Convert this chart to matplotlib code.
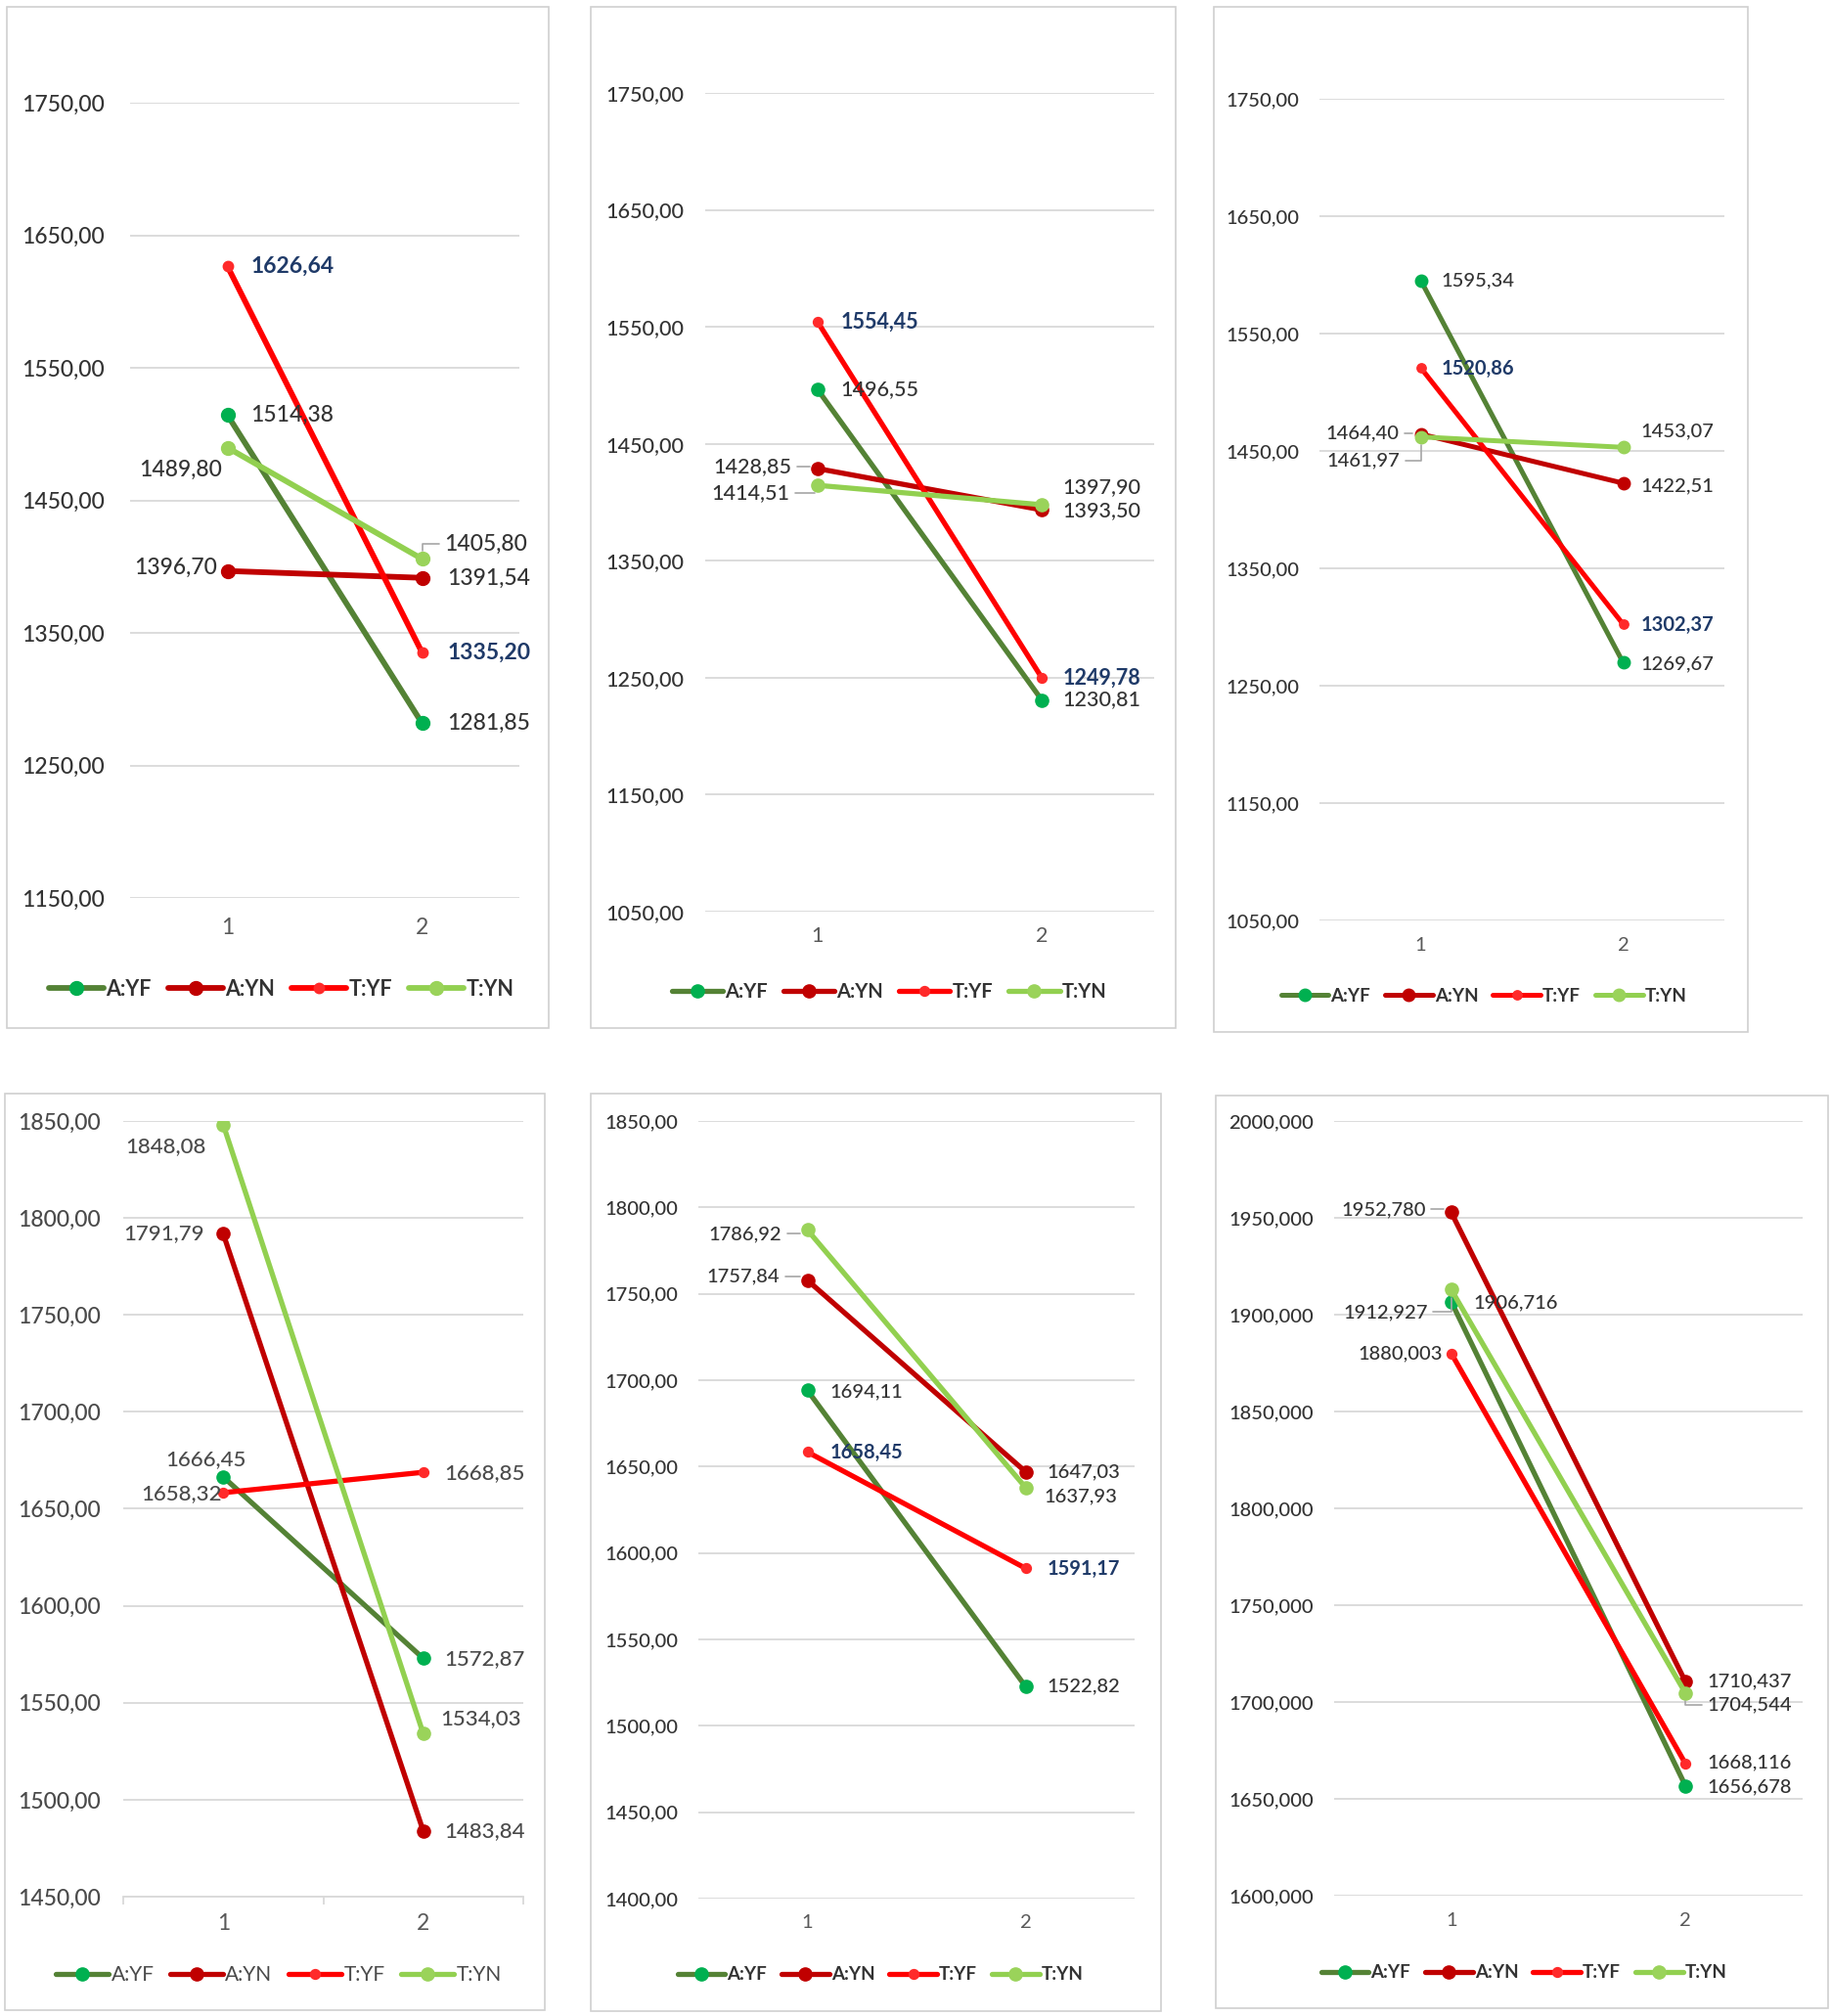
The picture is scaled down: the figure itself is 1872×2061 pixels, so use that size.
import matplotlib
matplotlib.use("Agg")
import matplotlib.pyplot as plt
from matplotlib.patches import Rectangle

plt.rcParams['font.family'] = ['Lato', 'DejaVu Sans']

# ---------------- data ----------------
series_names = ["A:YF", "A:YN", "T:YF", "T:YN"]
categories = ["1", "2"]

panel1_values = [[1514.38, 1281.85], [1396.70, 1391.54], [1626.64, 1335.20], [1489.80, 1405.80]]
panel2_values = [[1496.55, 1230.81], [1428.85, 1393.50], [1554.45, 1249.78], [1414.51, 1397.90]]
panel3_values = [[1595.34, 1269.67], [1464.40, 1422.51], [1520.86, 1302.37], [1461.97, 1453.07]]
panel4_values = [[1666.45, 1572.87], [1791.79, 1483.84], [1658.32, 1668.85], [1848.08, 1534.03]]
panel5_values = [[1694.11, 1522.82], [1757.84, 1647.03], [1658.45, 1591.17], [1786.92, 1637.93]]
panel6_values = [[1906.716, 1656.678], [1952.780, 1710.437], [1880.003, 1668.116], [1912.927, 1704.544]]

panel1_ticks = [1150, 1250, 1350, 1450, 1550, 1650, 1750]
panel2_ticks = [1050, 1150, 1250, 1350, 1450, 1550, 1650, 1750]
panel3_ticks = [1050, 1150, 1250, 1350, 1450, 1550, 1650, 1750]
panel4_ticks = [1450, 1500, 1550, 1600, 1650, 1700, 1750, 1800, 1850]
panel5_ticks = [1400, 1450, 1500, 1550, 1600, 1650, 1700, 1750, 1800, 1850]
panel6_ticks = [1600, 1650, 1700, 1750, 1800, 1850, 1900, 1950, 2000]

# ---------------- styles / layout ----------------
line_colors = ["#548235", "#c00000", "#ff0000", "#92d050"]
marker_colors = ["#00b050", "#c00000", "#ff2a2a", "#9ad35a"]
marker_sizes = [10, 10, 7.5, 10]
GRAY = "#333333"
NAVY = "#1f3a68"
GRID = "#d9d9d9"
TEXT_WEIGHT = 'medium'

W, H = 1872, 2061

# label offsets (dx, dy in image pixels; dy positive = down), ha, leader
R, Lf = 'right', 'left'
offs1 = [[(24, 0, Lf, 0), (26, 0, Lf, 0)],
         [(-10, -3, R, 0), (26, 1, Lf, 0)],
         [(24, 0, Lf, 0), (26, 0, Lf, 0)],
         [(-5, 23, R, 0), (23, -15, Lf, 1)]]
offs2 = [[(24, 0, Lf, 0), (21, -1, Lf, 0)],
         [(-26, -2, R, 1), (21, 1, Lf, 0)],
         [(24, 0, Lf, 0), (21, 0, Lf, 0)],
         [(-28, 8, R, 1), (21, -18, Lf, 0)]]
offs3 = [[(21, 0, Lf, 0), (18, 1, Lf, 0)],
         [(-22, -1, R, 1), (18, 3, Lf, 0)],
         [(21, 1, Lf, 0), (18, 1, Lf, 0)],
         [(-21, 24, R, 1), (18, -16, Lf, 0)]]
offs4 = [[(23, -18, R, 0), (21, 1, Lf, 0)],
         [(-19, 0, R, 0), (21, 0, Lf, 0)],
         [(-2, 1, R, 0), (21, 1, Lf, 0)],
         [(-18, 22, R, 0), (18, -15, Lf, 0)]]
offs5 = [[(23, 1, Lf, 0), (22, 0, Lf, 0)],
         [(-28, -4, R, 1), (22, 0, Lf, 0)],
         [(23, 1, Lf, 0), (22, 1, Lf, 0)],
         [(-26, 4, R, 1), (19, 9, Lf, 0)]]
offs6 = [[(23, 1, Lf, 0), (22, 1, Lf, 0)],
         [(-26, -3, R, 1), (22, 0, Lf, 0)],
         [(-9, 0, R, 0), (22, -1, Lf, 0)],
         [(-24, 23, R, 1), (22, 12, Lf, 1)]]

panels = [
    dict(values=panel1_values, ticks=panel1_ticks, dec=2, plot=(133, 531, 105, 918), border=(7, 7, 561, 1051),
         legend=(288, 1011), xtick_y=952, ypad=26, tfs=16.5, lfs=16.5, gfs=15.5, lw=4.2, offs=offs1,
         navy=True, bold_legend=True, xaxis=False, ms=1.0, gray=GRAY),
    dict(values=panel2_values, ticks=panel2_ticks, dec=2, plot=(721, 1180, 95, 932), border=(604, 7, 1202, 1051),
         legend=(909, 1014), xtick_y=960, ypad=22, tfs=15.5, lfs=15.5, gfs=14.5, lw=3.8, offs=offs2,
         navy=True, bold_legend=True, xaxis=False, ms=0.95, gray=GRAY),
    dict(values=panel3_values, ticks=panel3_ticks, dec=2, plot=(1349, 1763, 101, 941), border=(1241, 7, 1787, 1055),
         legend=(1517, 1018), xtick_y=970, ypad=21, tfs=14.5, lfs=14.5, gfs=13.5, lw=3.6, offs=offs3,
         navy=True, bold_legend=True, xaxis=False, ms=0.9, gray=GRAY),
    dict(values=panel4_values, ticks=panel4_ticks, dec=2, plot=(126, 535, 1146, 1939), border=(5, 1118, 557, 2055),
         legend=(285, 2019), xtick_y=1970, ypad=23, tfs=16.5, lfs=16, gfs=15, lw=3.8, offs=offs4,
         navy=False, bold_legend=False, xaxis=True, ms=0.95, gray="#4a4a4a"),
    dict(values=panel5_values, ticks=panel5_ticks, dec=2, plot=(714, 1160, 1146, 1941), border=(604, 1118, 1187, 2056),
         legend=(900, 2019), xtick_y=1969, ypad=21, tfs=14.5, lfs=14.5, gfs=13.5, lw=3.8, offs=offs5,
         navy=True, bold_legend=True, xaxis=False, ms=0.95, gray=GRAY),
    dict(values=panel6_values, ticks=panel6_ticks, dec=3, plot=(1364, 1843, 1146, 1938), border=(1243, 1120, 1869, 2053),
         legend=(1558, 2017), xtick_y=1967, ypad=21, tfs=14.5, lfs=14.5, gfs=13.5, lw=3.8, offs=offs6,
         navy=False, bold_legend=True, xaxis=False, ms=0.95, gray=GRAY),
]


def fmt(v, dec):
    return f"{v:.{dec}f}".replace('.', ',')


fig = plt.figure(figsize=(W / 100, H / 100), dpi=100)
fig.patch.set_facecolor("white")

for p in panels:
    bx0, by0, bx1, by1 = p["border"]
    fig.patches.append(Rectangle((bx0 / W, 1 - by1 / H), (bx1 - bx0) / W, (by1 - by0) / H,
                                 transform=fig.transFigure, fill=False, edgecolor="#d0d0d0", lw=1.2))
    L, Rr, T, B = p["plot"]
    ax = fig.add_axes([L / W, 1 - B / H, (Rr - L) / W, (B - T) / H])
    ticks = p["ticks"]
    ax.set_ylim(ticks[0], ticks[-1])
    ax.set_xlim(0.5, 2.5)
    ax.set_yticks(ticks)
    ax.set_yticklabels([fmt(t, p["dec"]) for t in ticks], fontweight=TEXT_WEIGHT)
    ax.set_xticks([1, 2])
    ax.set_xticklabels(categories)
    for s in ax.spines.values():
        s.set_visible(False)
    ax.grid(axis='y', color=GRID, lw=1.3)
    ax.set_axisbelow(True)
    ypad_pt = p["ypad"] * 0.72
    fs_px = p["tfs"] * 100 / 72
    xpad_pt = (p["xtick_y"] - B - 0.62 * fs_px) * 0.72
    ax.tick_params(axis='y', length=0, pad=ypad_pt, labelsize=p["tfs"], labelcolor=p["gray"])
    ax.tick_params(axis='x', length=0, pad=xpad_pt, labelsize=p["tfs"], labelcolor="#595959")
    if p["xaxis"]:
        ax.spines['bottom'].set_visible(True)
        ax.spines['bottom'].set_color(GRID)
        ax.spines['bottom'].set_linewidth(1.3)
        ax.set_xticks([0.5, 1.5, 2.5], minor=True)
        ax.tick_params(axis='x', which='minor', length=6, color=GRID, width=1.3)

    xs = [1, 2]
    for i, name in enumerate(series_names):
        vals = p["values"][i]
        ax.plot(xs, vals, color=line_colors[i], lw=p["lw"], marker='o',
                markersize=marker_sizes[i] * p["ms"], markerfacecolor=marker_colors[i],
                markeredgecolor=marker_colors[i], label=name, zorder=3 + i, solid_capstyle='round')
        for j in range(2):
            dx, dy, ha, leader = p["offs"][i][j]
            is_navy = p["navy"] and name == "T:YF"
            color = NAVY if is_navy else p["gray"]
            weight = 'bold' if is_navy else TEXT_WEIGHT
            kw = {}
            if leader:
                kw["arrowprops"] = dict(arrowstyle='-', color="#a6a6a6", lw=1.2,
                                        shrinkA=2, shrinkB=6,
                                        relpos=(0, 0.5) if ha == 'left' else (1, 0.5),
                                        connectionstyle="angle,angleA=0,angleB=90,rad=0")
            ax.annotate(fmt(vals[j], p["dec"]), xy=(xs[j], vals[j]), xytext=(dx, -dy),
                        textcoords='offset pixels', ha=ha, va='center', fontsize=p["lfs"],
                        color=color, fontweight=weight, zorder=10, annotation_clip=False, **kw)

    lx, ly = p["legend"]
    leg = ax.legend(loc='center', bbox_to_anchor=(lx / W, 1 - ly / H), bbox_transform=fig.transFigure,
                    ncol=4, frameon=False, handlelength=2.6, handletextpad=0.1, columnspacing=0.8,
                    prop=dict(size=p["gfs"], weight='bold' if p["bold_legend"] else 'normal'),
                    borderaxespad=0, borderpad=0)
    for t in leg.get_texts():
        t.set_color(p["gray"])

fig.savefig("out.png", dpi=100, facecolor="white")
